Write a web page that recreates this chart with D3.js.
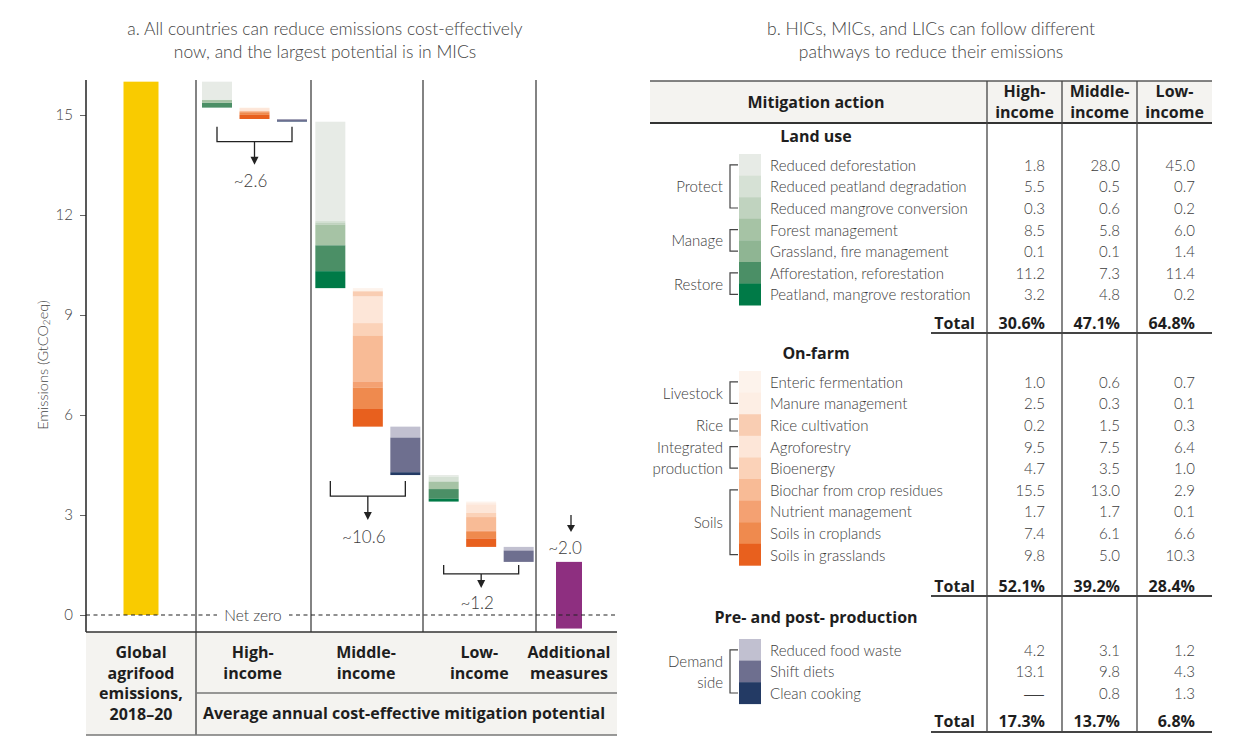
<!DOCTYPE html>
<html>
<head>
<meta charset="UTF-8" />
<title>Agrifood mitigation potential</title>
<style>
  body { margin: 0; background: #fff; }
  svg { display: block; font-family: Lato, "Open Sans", sans-serif; }
  .bold { font-family: "Open Sans", Lato, sans-serif; font-weight: 700; }
</style>
</head>
<body>
<svg width="1258" height="754"></svg>
<script src="https://cdn.jsdelivr.net/npm/d3@7"></script>
<script>
// ---------- data ----------
const groups = ["High-income", "Middle-income", "Low-income"];

const landActions = ["Reduced deforestation", "Reduced peatland degradation", "Reduced mangrove conversion",
  "Forest management", "Grassland, fire management", "Afforestation, reforestation", "Peatland, mangrove restoration"];
const landHigh = [1.8, 5.5, 0.3, 8.5, 0.1, 11.2, 3.2];
const landMid = [28.0, 0.5, 0.6, 5.8, 0.1, 7.3, 4.8];
const landLow = [45.0, 0.7, 0.2, 6.0, 1.4, 11.4, 0.2];
const landTotals = [30.6, 47.1, 64.8];

const farmActions = ["Enteric fermentation", "Manure management", "Rice cultivation", "Agroforestry", "Bioenergy",
  "Biochar from crop residues", "Nutrient management", "Soils in croplands", "Soils in grasslands"];
const farmHigh = [1.0, 2.5, 0.2, 9.5, 4.7, 15.5, 1.7, 7.4, 9.8];
const farmMid = [0.6, 0.3, 1.5, 7.5, 3.5, 13.0, 1.7, 6.1, 5.0];
const farmLow = [0.7, 0.1, 0.3, 6.4, 1.0, 2.9, 0.1, 6.6, 10.3];
const farmTotals = [52.1, 39.2, 28.4];

const postActions = ["Reduced food waste", "Shift diets", "Clean cooking"];
const postHigh = [4.2, 13.1, null];
const postMid = [3.1, 9.8, 0.8];
const postLow = [1.2, 4.3, 1.3];
const postTotals = [17.3, 13.7, 6.8];

const landGroups = [{ name: ["Protect"], rows: [0, 2] }, { name: ["Manage"], rows: [3, 4] }, { name: ["Restore"], rows: [5, 6] }];
const farmGroups = [{ name: ["Livestock"], rows: [0, 1] }, { name: ["Rice"], rows: [2, 2] },
  { name: ["Integrated", "production"], rows: [3, 4] }, { name: ["Soils"], rows: [5, 8] }];
const postGroups = [{ name: ["Demand", "side"], rows: [0, 2] }];

// panel a
const globalEmissions = 16.0;      // GtCO2eq, 2018-20
const additionalMeasures = 2.0;
const potentialLabels = ["~2.6", "~10.6", "~1.2"];
// bars as drawn in the reference: height of each cluster (Gt) and whose table shares split it
const barTotals = [1.2, 10.6, 2.6];
const barShareGroup = ["Low-income", "Middle-income", "High-income"];
const yTicks = [0, 3, 6, 9, 12, 15];

// ---------- styles ----------
const greens = ["#e7ebe6", "#d6e1d5", "#c0d3bf", "#a6c3a5", "#8fb593", "#4b8f66", "#007a47"];
const oranges = ["#fdf3ec", "#fdeee4", "#f9cdb2", "#fde6d8", "#fbd2b8", "#f8bb96", "#f4a172", "#ef8a4e", "#e8601e"];
const navies = ["#c1c0d0", "#6e6f8f", "#233a64"];
const TXT = "#3c3c3c";
const BOLD = "#1e1e1e";
const LINE = "#5a5a5a";
const BAND = "#f4f3f0";
const BOLD_SIZE = "16px";

const sections = [
  { title: "Land use", actions: landActions, values: [landHigh, landMid, landLow], totals: landTotals, colors: greens, labels: landGroups },
  { title: "On-farm", actions: farmActions, values: [farmHigh, farmMid, farmLow], totals: farmTotals, colors: oranges, labels: farmGroups },
  { title: "Pre- and post- production", actions: postActions, values: [postHigh, postMid, postLow], totals: postTotals, colors: navies, labels: postGroups }
];

const svg = d3.select("svg");
svg.append("rect").attr("width", 1258).attr("height", 754).attr("fill", "#fff");

// ---------- panel a ----------
const a = svg.append("g");
const PLOT_TOP = 80, PLOT_BOTTOM = 632, AXIS_X = 86, PLOT_RIGHT = 617;
const y = d3.scaleLinear().domain([0, 15]).range([615, 115]);

// titles
a.selectAll(".ta").data(["a. All countries can reduce emissions cost-effectively", "now, and the largest potential is in MICs"])
  .enter().append("text")
  .attr("x", 325).attr("y", (d, i) => 28 + i * 23)
  .attr("text-anchor", "middle").attr("dominant-baseline", "central")
  .attr("font-size", "17.5px").attr("font-weight", 300).attr("fill", "#444")
  .text(d => d);

// label band under plot
a.append("rect").attr("x", AXIS_X).attr("y", PLOT_BOTTOM).attr("width", PLOT_RIGHT - AXIS_X).attr("height", 103).attr("fill", BAND);

const xGroup = d3.scaleBand().domain(groups).range([196, 536]);
const sectionKeys = ["land", "farm", "post"];
const xBar = d3.scaleBand().domain(sectionKeys).range([6, 111]).paddingInner(0.2);

// global emissions bar
a.append("rect")
  .attr("x", 141 - 17.5).attr("width", 35)
  .attr("y", y(globalEmissions)).attr("height", y(0) - y(globalEmissions))
  .attr("fill", "#f9cb00");

// waterfall
let level = globalEmissions;
const afterLevels = [];
groups.forEach((g, gi) => {
  const shareIdx = groups.indexOf(barShareGroup[gi]);
  sections.forEach((sec, si) => {
    const segs = sec.values[shareIdx].map(v => (v || 0) / 100 * barTotals[gi]);
    const top = level;
    const x0 = xGroup(g) + xBar(sectionKeys[si]);
    a.selectAll(null).data(segs).enter().append("rect")
      .attr("x", x0).attr("width", xBar.bandwidth())
      .attr("y", (d, i) => y(top - d3.sum(segs.slice(0, i))))
      .attr("height", d => y(0) - y(d) + 0.01)
      .attr("fill", (d, i) => sec.colors[i]);
    level = top - d3.sum(segs);
  });
  afterLevels.push(level);
});

// additional measures
a.append("rect")
  .attr("x", 569 - 13).attr("width", 26)
  .attr("y", y(level)).attr("height", y(level - additionalMeasures) - y(level))
  .attr("fill", "#8e2f80");

// group separators
a.selectAll(".sep").data([196, 311, 423, 536]).enter().append("line")
  .attr("x1", d => d).attr("x2", d => d)
  .attr("y1", PLOT_TOP).attr("y2", d => d === 196 ? 735 : PLOT_BOTTOM)
  .attr("stroke", LINE).attr("stroke-width", 1.5);

// zero line
a.append("line").attr("x1", AXIS_X).attr("x2", PLOT_RIGHT).attr("y1", y(0)).attr("y2", y(0))
  .attr("stroke", "#222").attr("stroke-width", 1.2).attr("stroke-dasharray", "4,3.5");
a.append("rect").attr("x", 217).attr("y", y(0) - 8).attr("width", 72).attr("height", 16).attr("fill", "#fff");
a.append("text").attr("x", 253).attr("y", y(0)).attr("text-anchor", "middle").attr("dominant-baseline", "central")
  .attr("font-size", "15.5px").attr("font-weight", 300).attr("fill", TXT).text("Net zero");

// y axis
const axis = a.append("g").attr("transform", `translate(${AXIS_X},0)`)
  .call(d3.axisLeft(y).tickValues(yTicks).tickSize(6).tickPadding(7).tickSizeOuter(0));
axis.select(".domain").remove();
axis.selectAll(".tick line").attr("stroke", "#666");
axis.selectAll(".tick text").attr("font-size", "15px").attr("font-family", "Lato, sans-serif")
  .attr("font-weight", 300).attr("fill", "#444");
a.append("line").attr("x1", AXIS_X).attr("x2", AXIS_X).attr("y1", PLOT_TOP).attr("y2", PLOT_BOTTOM)
  .attr("stroke", "#222").attr("stroke-width", 1.5);

const yTitle = a.append("text").attr("transform", "translate(42,365) rotate(-90)")
  .attr("text-anchor", "middle").attr("dominant-baseline", "central")
  .attr("font-size", "14.5px").attr("font-weight", 300).attr("fill", "#444");
yTitle.append("tspan").text("Emissions (GtCO");
yTitle.append("tspan").attr("font-size", "10px").attr("dy", 4).text("2");
yTitle.append("tspan").attr("dy", -4).text("eq)");

// brackets with arrows
const bracketDrop = [[5, 20, 43, 59], [6, 21, 45, 61], [3, 12, 26, 41]];
groups.forEach((g, gi) => {
  const base = y(afterLevels[gi]);
  const [d0, d1, d2, d3] = bracketDrop[gi];
  const xl = xGroup(g) + xBar("land") + xBar.bandwidth() / 2;
  const xr = xGroup(g) + xBar("post") + xBar.bandwidth() / 2;
  const xm = (xl + xr) / 2;
  a.append("path")
    .attr("d", `M${xl},${base + d0}V${base + d1}H${xr}V${base + d0}M${xm},${base + d1}V${base + d2 - 6}`)
    .attr("fill", "none").attr("stroke", "#222").attr("stroke-width", 1.3);
  a.append("path").attr("d", `M${xm - 4},${base + d2 - 8}L${xm + 4},${base + d2 - 8}L${xm},${base + d2}Z`).attr("fill", "#222");
  a.append("text").attr("x", xm - 4).attr("y", base + d3).attr("text-anchor", "middle").attr("dominant-baseline", "central")
    .attr("font-size", "17px").attr("font-weight", 300).attr("fill", TXT).text(potentialLabels[gi]);
});
{
  const top = y(level);
  a.append("path").attr("d", `M571,${top - 47}V${top - 36}`).attr("stroke", "#222").attr("stroke-width", 1.3);
  a.append("path").attr("d", `M567,${top - 37}L575,${top - 37}L571,${top - 30}Z`).attr("fill", "#222");
  a.append("text").attr("x", 565).attr("y", top - 14).attr("text-anchor", "middle").attr("dominant-baseline", "central")
    .attr("font-size", "17px").attr("font-weight", 300).attr("fill", TXT).text("~" + additionalMeasures.toFixed(1));
}

// category labels
const catLabels = [
  { x: 141, lines: ["Global", "agrifood", "emissions,", "2018–20"] },
  ...groups.map(g => ({ x: xGroup(g) + xGroup.bandwidth() / 2, lines: [g.split("-")[0] + "-", "income"] })),
  { x: 569, lines: ["Additional", "measures"] }
];
catLabels.forEach(c => {
  a.append("text").attr("class", "bold").attr("x", c.x).attr("text-anchor", "middle")
    .attr("font-size", BOLD_SIZE).attr("fill", BOLD)
    .selectAll("tspan").data(c.lines).enter().append("tspan")
    .attr("x", c.x).attr("y", (d, i) => 652 + i * 20.5).attr("dominant-baseline", "central").text(d => d);
});
a.append("text").attr("class", "bold").attr("x", 404).attr("y", 713).attr("text-anchor", "middle").attr("dominant-baseline", "central")
  .attr("font-size", BOLD_SIZE).attr("fill", BOLD)
  .text("Average annual cost-effective mitigation potential");

a.append("line").attr("x1", AXIS_X).attr("x2", PLOT_RIGHT).attr("y1", PLOT_BOTTOM).attr("y2", PLOT_BOTTOM)
  .attr("stroke", "#333").attr("stroke-width", 1.5);
a.append("line").attr("x1", 196).attr("x2", PLOT_RIGHT).attr("y1", 693).attr("y2", 693)
  .attr("stroke", "#777").attr("stroke-width", 1.5);
a.append("line").attr("x1", AXIS_X).attr("x2", PLOT_RIGHT).attr("y1", 735).attr("y2", 735)
  .attr("stroke", "#777").attr("stroke-width", 1.5);

// ---------- panel b (table) ----------
const b = svg.append("g");
const TL = 650, TR = 1212, TOP = 81, HEAD_B = 123, BOTTOM = 732;
const xCol = d3.scaleBand().domain(groups).range([987, TR]);
const fmt = d3.format(".1f");

b.selectAll(".tb").data(["b. HICs, MICs, and LICs can follow different", "pathways to reduce their emissions"])
  .enter().append("text")
  .attr("x", 931).attr("y", (d, i) => 28 + i * 23)
  .attr("text-anchor", "middle").attr("dominant-baseline", "central")
  .attr("font-size", "17.5px").attr("font-weight", 300).attr("fill", "#444")
  .text(d => d);

b.append("rect").attr("x", TL).attr("y", TOP).attr("width", TR - TL).attr("height", HEAD_B - TOP).attr("fill", BAND);
b.append("line").attr("x1", TL).attr("x2", TR).attr("y1", TOP).attr("y2", TOP).attr("stroke", LINE).attr("stroke-width", 1.5);
b.append("line").attr("x1", TL).attr("x2", TR).attr("y1", HEAD_B).attr("y2", HEAD_B).attr("stroke", "#333").attr("stroke-width", 2);
b.append("text").attr("class", "bold").attr("x", 816).attr("y", 102).attr("text-anchor", "middle").attr("dominant-baseline", "central")
  .attr("font-size", BOLD_SIZE).attr("fill", BOLD).text("Mitigation action");
groups.forEach(g => {
  const cx = xCol(g) + xCol.bandwidth() / 2;
  b.append("text").attr("class", "bold").attr("text-anchor", "middle")
    .attr("font-size", BOLD_SIZE).attr("fill", BOLD)
    .selectAll("tspan").data([g.split("-")[0] + "-", "income"]).enter().append("tspan")
    .attr("x", cx).attr("y", (d, i) => 91 + i * 21).attr("dominant-baseline", "central").text(d => d);
});
b.selectAll(".vcol").data(groups).enter().append("line")
  .attr("x1", d => xCol(d)).attr("x2", d => xCol(d)).attr("y1", TOP).attr("y2", BOTTOM)
  .attr("stroke", "#444").attr("stroke-width", 1.3);

const ROW_H = 21.6;
const layout = [
  { titleY: 136, rowTop: 154, totalY: 323, lineY: 333 },
  { titleY: 353, rowTop: 371, totalY: 586, lineY: 596 },
  { titleY: 617, rowTop: 639, totalY: 721, lineY: 732 }
];

sections.forEach((sec, si) => {
  const L = layout[si];
  const yRow = d3.scaleBand().domain(d3.range(sec.actions.length)).range([L.rowTop, L.rowTop + ROW_H * sec.actions.length]);
  const cy = i => yRow(i) + yRow.bandwidth() / 2;

  b.append("text").attr("class", "bold").attr("x", 816).attr("y", L.titleY).attr("text-anchor", "middle").attr("dominant-baseline", "central")
    .attr("font-size", BOLD_SIZE).attr("fill", BOLD).text(sec.title);

  // swatches
  b.selectAll(null).data(sec.actions).enter().append("rect")
    .attr("x", 739).attr("width", 22)
    .attr("y", (d, i) => yRow(i)).attr("height", yRow.bandwidth() + 0.3)
    .attr("fill", (d, i) => sec.colors[i]);

  // action names
  b.selectAll(null).data(sec.actions).enter().append("text")
    .attr("x", 770).attr("y", (d, i) => cy(i)).attr("dominant-baseline", "central")
    .attr("font-size", "15px").attr("font-weight", 300).attr("fill", TXT).text(d => d);

  // values
  groups.forEach((g, gi) => {
    b.selectAll(null).data(sec.values[gi]).enter().append("text")
      .attr("x", xCol(g) + 58).attr("y", (d, i) => cy(i))
      .attr("text-anchor", "end").attr("dominant-baseline", "central")
      .attr("font-size", d => d == null ? "22px" : "15px")
      .attr("font-family", d => d == null ? "'DejaVu Sans', sans-serif" : null)
      .attr("font-weight", d => d == null ? 200 : 300).attr("fill", TXT)
      .text(d => d == null ? "—" : fmt(d));
    b.append("text").attr("class", "bold").attr("x", xCol(g) + 58).attr("y", L.totalY)
      .attr("text-anchor", "end").attr("dominant-baseline", "central")
      .attr("font-size", BOLD_SIZE).attr("fill", BOLD)
      .text(fmt(sec.totals[gi]) + "%");
  });
  b.append("text").attr("class", "bold").attr("x", 975).attr("y", L.totalY).attr("text-anchor", "end").attr("dominant-baseline", "central")
    .attr("font-size", BOLD_SIZE).attr("fill", BOLD).text("Total");
  b.append("line").attr("x1", 931).attr("x2", TR).attr("y1", L.lineY).attr("y2", L.lineY)
    .attr("stroke", "#444").attr("stroke-width", 1.8);

  // group brackets
  sec.labels.forEach(gl => {
    let y0 = cy(gl.rows[0]), y1 = cy(gl.rows[1]);
    if (y0 === y1) { y0 -= 6; y1 += 6; }
    b.append("path").attr("d", `M738,${y0}H730V${y1}H738`).attr("fill", "none").attr("stroke", "#444").attr("stroke-width", 1.2);
    const mid = (y0 + y1) / 2;
    b.append("text").attr("text-anchor", "end")
      .attr("font-size", "15px").attr("font-weight", 300).attr("fill", TXT)
      .selectAll("tspan").data(gl.name).enter().append("tspan")
      .attr("x", 723).attr("y", (d, i) => mid + (i - (gl.name.length - 1) / 2) * 20.5)
      .attr("dominant-baseline", "central").text(d => d);
  });
});
</script>
</body>
</html>
